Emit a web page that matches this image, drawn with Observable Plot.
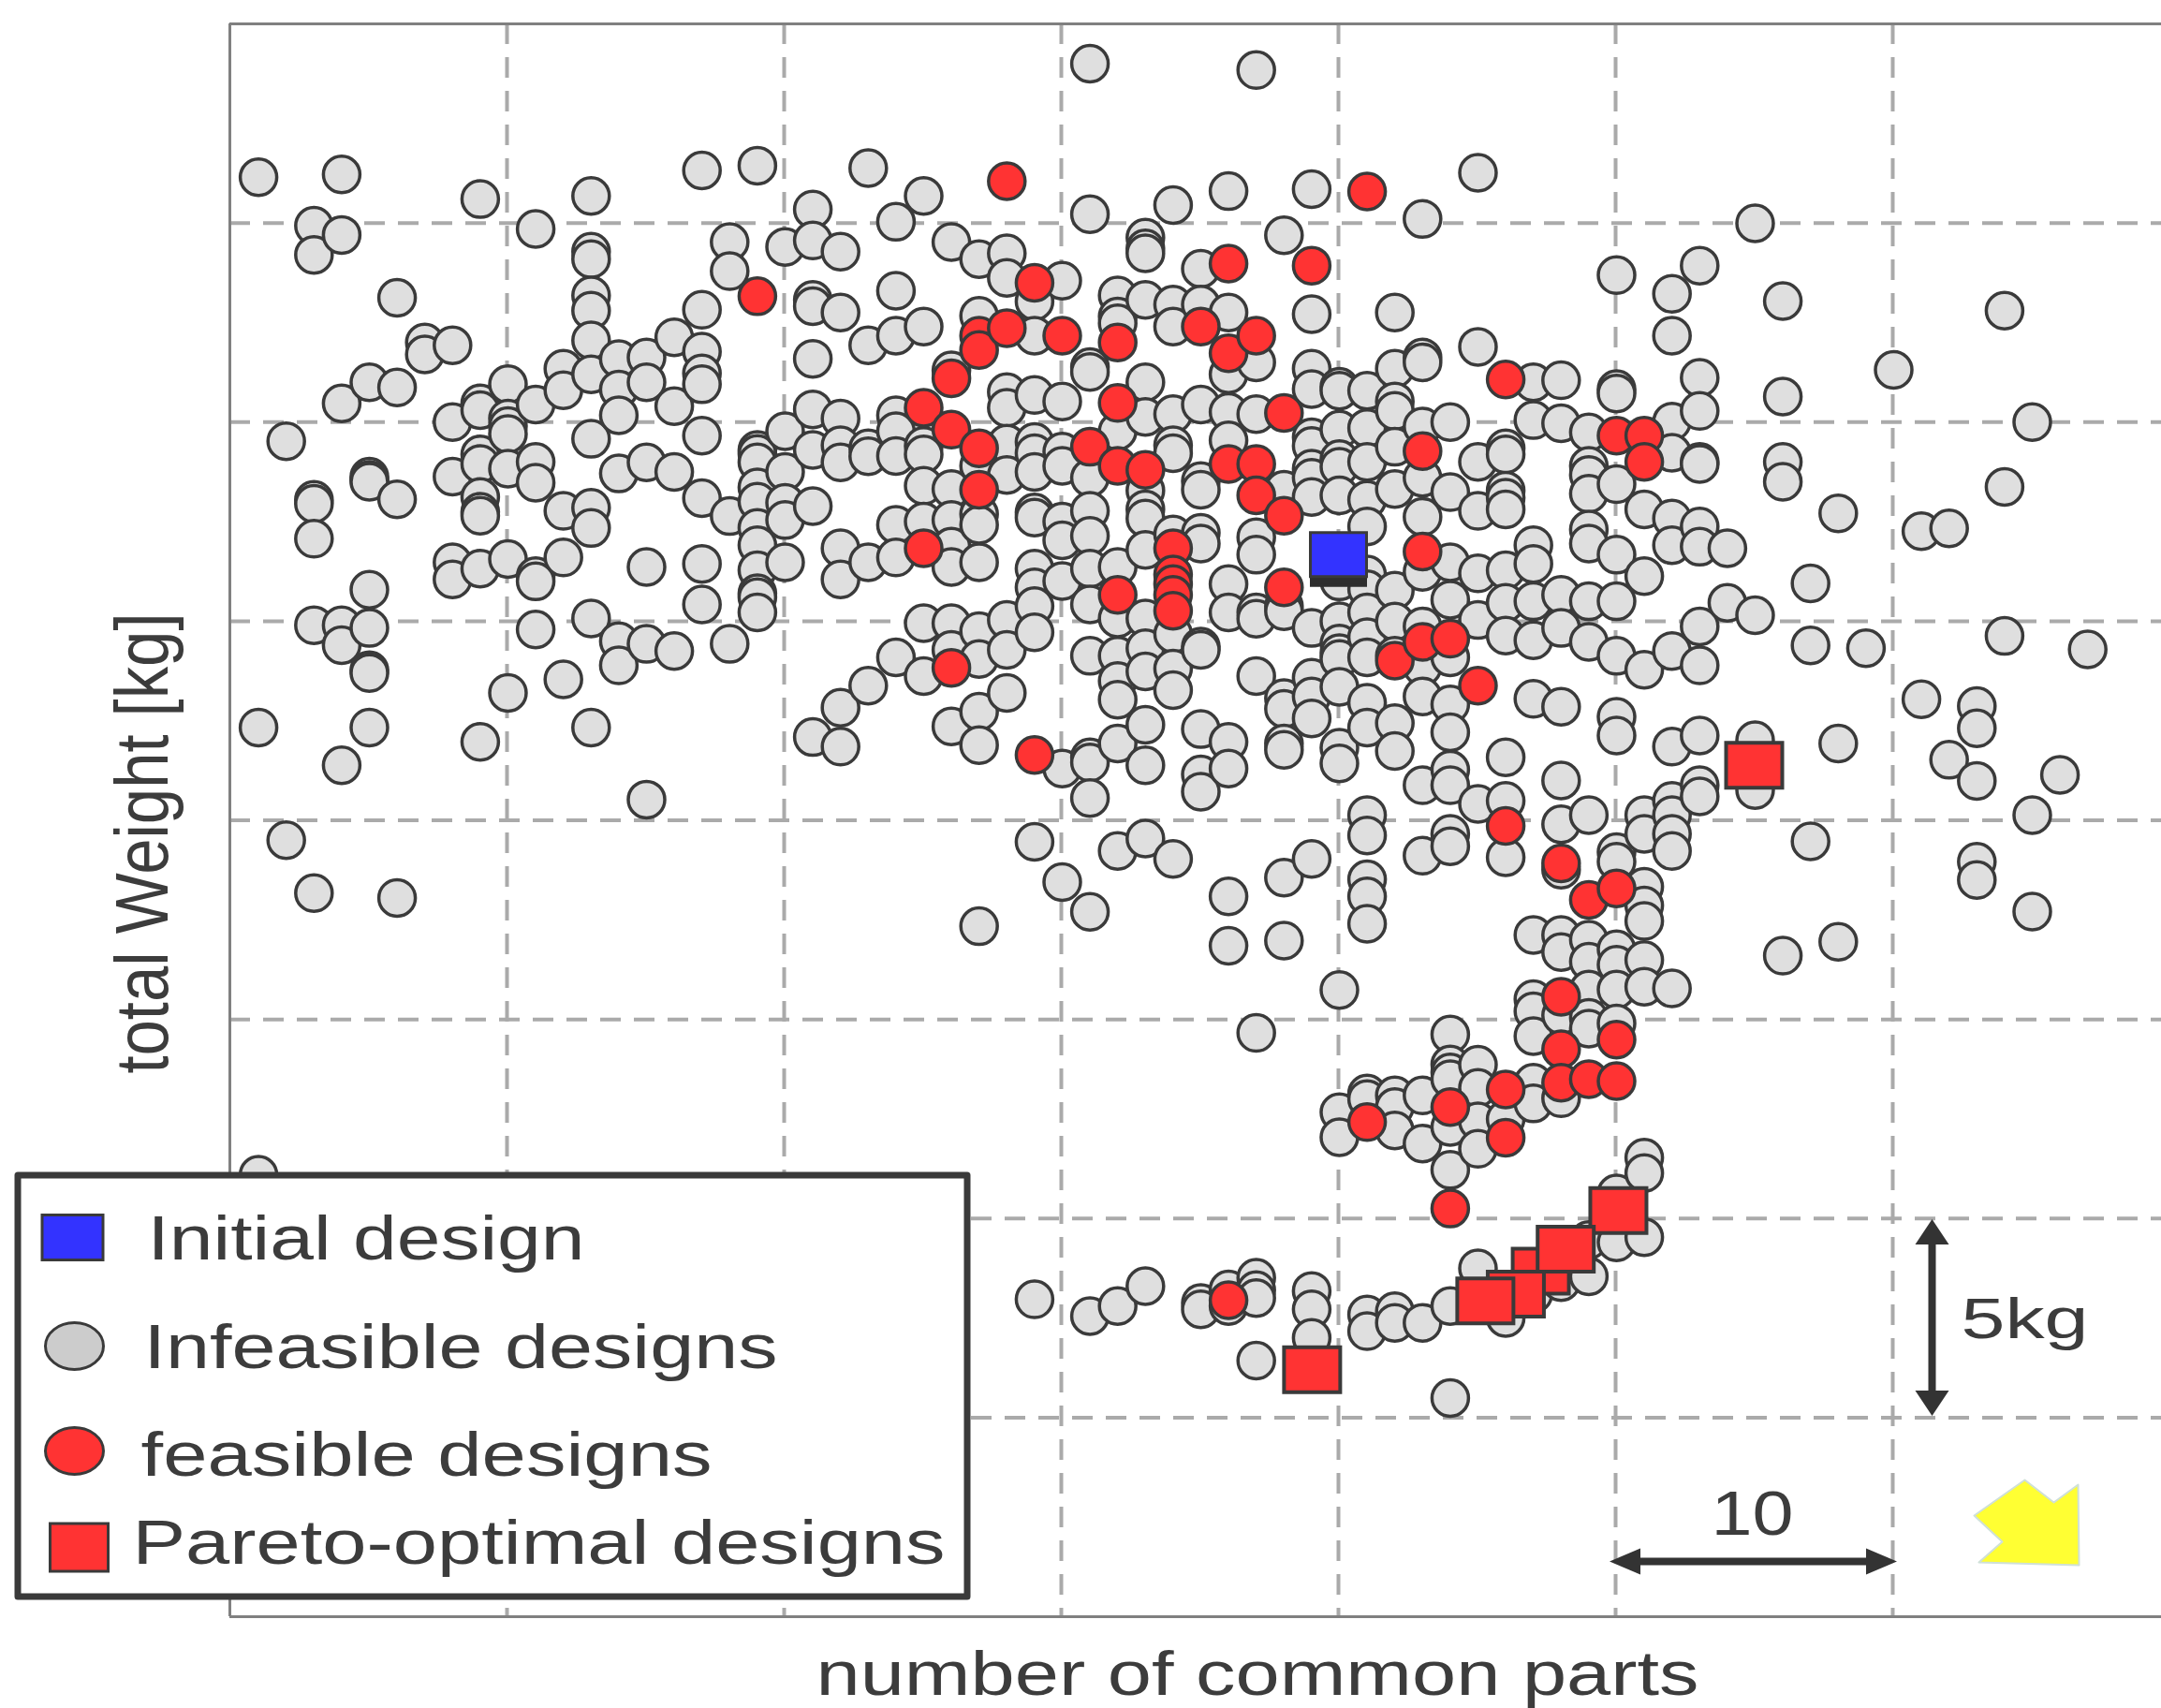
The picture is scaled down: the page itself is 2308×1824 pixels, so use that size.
<!DOCTYPE html>
<html>
<head>
<meta charset="utf-8">
<script src="https://cdn.jsdelivr.net/npm/d3@7"></script>
<script src="https://cdn.jsdelivr.net/npm/@observablehq/plot@0.6"></script>
<style>
html,body{margin:0;padding:0;background:#fff;overflow:hidden}
svg{display:block}
</style>
</head>
<body>
<div id="chart"></div>
<script>
// Infeasible designs: [number of common parts, [total weight in kg, ...]]
const infeasibleColumns = [
[1,[36.15,22.33,11.1]],
[2,[29.52,19.5]],
[3,[34.93,34.2,28.05,27.95,27.07,24.9,18.17]],
[4,[36.22,34.7,30.47,24.9,24.4,21.38]],
[5,[31.0,28.63,28.55,28.5,25.79,24.83,23.77,23.7,22.33]],
[6,[33.12,30.87,28.06,18.05]],
[7,[32.0,31.7]],
[8,[31.93,30.0,28.63,26.48,26.05]],
[9,[35.6,30.47,30.3,29.19,28.95,28.12,27.75,27.65,26.32,21.97]],
[10,[30.95,30.09,29.9,29.7,28.83,26.56,23.2]],
[11,[34.85,30.44,29.0,28.48,26.13,26.0,24.79]],
[12,[31.34,30.8,27.77,26.6,23.54]],
[13,[35.68,34.28,34.09,33.18,32.8,32.05,31.2,29.58,27.85,27.34,25.07,22.33]],
[14,[31.58,30.82,30.17,28.71,24.5,23.89]],
[15,[31.62,31.0,28.99,26.36,24.43,20.52]],
[16,[32.13,30.4,28.75,24.25]],
[17,[36.32,32.82,31.77,31.22,30.95,29.66,28.09,26.44,25.42]],
[18,[34.52,33.79,27.64,24.43]],
[19,[36.44,29.3,29.2,28.99,28.36,28.0,27.34,26.91,26.28,25.7,25.6,25.22]],
[20,[34.4,29.77,28.75,27.97,27.54,26.48]],
[21,[35.34,34.56,33.07,32.91,31.59,30.32,29.3,27.89,22.09]],
[22,[34.28,32.75,30.09,29.42,28.99,26.83,26.05,22.83,21.85]],
[23,[36.38,31.93,29.34,29.14,26.48,23.38]],
[24,[35.03,33.3,32.17,30.17,29.77,29.15,27.42,26.6,24.09]],
[25,[35.68,32.4,29.4,29.19,28.4,27.5,24.95,23.62]],
[26,[34.52,31.3,28.32,27.54,26.87,26.36,24.95,24.28,22.36]],
[27,[34.09,32.67,28.9,27.69,27.42,26.48,24.75,24.05,22.73,21.89,17.34]],
[28,[34.24,33.62,30.75,30.36,29.46,28.67,25.03,24.28,23.2]],
[29,[33.03,32.17,30.68,29.5,29.22,28.75,27.73,27.6,26.32,25.85,25.38,24.72,19.46,7.97]],
[30,[33.55,30.52,29.26,28.9,27.5,27.03,26.01,21.3,18.45]],
[31,[39.0,35.22,31.38,31.26,28.6,27.77,27.14,26.32,25.42,24.13,21.58,21.45,20.56,17.7,7.55]],
[32,[33.18,32.65,32.48,29.77,26.36,25.07,24.13,23.5,23.03,21.93,19.23,7.8]],
[33,[34.63,34.36,34.24,33.07,31.0,30.13,28.28,27.81,27.58,26.79,25.07,24.32,23.74,22.4,21.38,19.54,8.3]],
[34,[35.45,32.95,32.4,30.2,29.42,29.22,27.18,24.68,23.81,23.27,19.03]],
[35,[33.85,32.95,30.44,28.52,28.3,27.22,26.95,24.36,24.28,22.29,21.15,20.72,7.88,7.72]],
[36,[35.8,32.75,31.2,30.25,29.54,25.93,25.22,21.97,21.3,18.09,16.85,8.22,7.8]],
[37,[38.84,31.5,30.2,27.11,26.67,25.22,25.06,23.62,14.66,8.51,8.2,8.0,6.43]],
[38,[34.69,28.3,25.38,25.25,23.07,22.8,21.93,21.77,18.56,16.98]],
[39,[35.85,32.71,31.34,30.83,29.62,29.4,28.83,28.6,28.12,24.83,23.58,23.11,22.56,19.03,8.18,7.72,7.0]],
[40,[30.89,30.79,29.81,29.07,28.88,28.16,26.3,26.0,25.0,24.44,24.2,24.05,23.35,21.82,21.43,15.74,12.67,12.04]],
[41,[30.79,29.85,29.0,28.05,27.38,26.17,25.8,25.22,24.6,24.09,22.95,22.33,20.13,19.62,18.52,18.09,17.4,13.14,13.0,7.59,7.17]],
[42,[32.75,31.34,30.52,30.28,29.38,28.32,25.77,24.99,24.13,22.44,21.74,13.09,12.8,12.21,7.67,7.38]],
[43,[35.1,31.62,31.5,29.89,28.6,27.62,26.24,24.87,23.85,23.11,20.88,19.11,13.09,11.88,7.38]],
[44,[30.0,28.24,26.48,25.54,24.09,22.91,22.21,21.27,20.88,19.66,19.35,14.62,13.87,13.67,13.5,12.3,11.22,7.8,5.49]],
[45,[36.26,31.89,29.0,27.77,26.2,25.03,20.41,13.86,13.28,12.44,11.75,8.75]],
[46,[29.34,29.19,28.28,28.1,27.81,26.28,25.46,24.64,21.58,20.49,19.07,12.5,7.5]],
[47,[31.0,30.05,26.91,26.44,25.5,24.52,23.05,17.12,15.51,15.2,14.58,13.41,12.89,8.1]],
[48,[31.05,29.97,25.66,24.83,22.85,21.0,19.9,18.76,17.12,16.69,15.1,13.02,8.4]],
[49,[29.74,28.9,28.67,28.2,27.3,26.95,25.5,24.48,20.13,17.0,16.45,15.75,15.04,14.77,9.46,8.55]],
[50,[33.69,30.83,30.72,28.44,26.67,25.5,24.13,22.6,22.13,19.2,18.96,16.76,16.37,15.75,14.9,10.63,9.4]],
[51,[27.81,26.13,23.78,20.13,19.66,18.33,17.86,17.47,16.49,15.82,11.53,11.14,9.53]],
[52,[33.22,32.17,30.01,29.23,27.58,26.91,24.25,21.85,20.49,20.13,19.66,19.23,15.78]],
[53,[33.93,31.11,30.28,29.0,28.95,27.38,26.87,24.87,23.89,22.13,20.88,20.6]],
[54,[26.83,25.46]],
[55,[34.99,25.15,22.01,20.76]],
[56,[33.04,30.64,29.0,28.5,16.6]],
[57,[25.95,24.39,19.47]],
[58,[27.71,21.93,16.95]],
[59,[24.32]],
[60,[31.31]],
[61,[27.26,23.04]],
[62,[27.33,21.52]],
[63,[22.87,22.31,20.99,18.96,18.5]],
[64,[32.8,28.37,24.63]],
[65,[30.0,20.13,17.71]],
[66,[21.14]],
[67,[24.29]]
];
// Feasible designs
const feasibleParts = [28,41,36,39,19,29,27,27,28,30,32,35,36,37,26,25,26,27,27,32,31,32,33,36,37,37,38,38,43,46,50,51,51,25,34,43,34,34,34,34,32,38,26,29,42,43,44,45,46,48,49,50,48,48,48,49,50,50,46,44,41,46,44,36];
const feasibleKg = [36.05,35.79,33.98,33.93,33.16,33.5,32.17,31.81,32.36,32.17,32.0,32.4,31.73,32.17,31.1,30.36,29.81,29.34,28.3,30.48,29.38,28.9,28.8,28.95,28.95,28.16,27.65,30.23,29.27,31.07,29.66,29.66,29.0,26.83,26.83,26.75,26.17,25.93,25.66,25.26,25.66,25.85,23.83,21.64,24.01,24.48,24.56,23.38,19.86,18.92,18.0,18.29,15.57,14.25,13.41,13.5,14.49,13.45,13.24,12.8,12.42,12.03,10.25,7.95];
// Pareto-optimal designs
const paretoParts = [55,50.1,47.3,48.2,46.4,45.3,39.05];
const paretoKg = [21.38,10.2,8.68,9.23,8.1,7.93,6.2];
// Initial design
const initialParts = [40];
const initialKg = [26.67];
// Grid and text
const partTicks = [10,20,30,40,50,60];
const kgTicks = [5,10,15,20,25,30,35];
const legendLabels = ["Initial design","Infeasible designs","feasible designs","Pareto-optimal designs"];
const xLabel = "number of common parts";
const yLabel = "total Weight [kg]";

const infeasible = infeasibleColumns.flatMap(([x, ys]) => ys.map(y => ({x, y})));
const feasible = feasibleParts.map((x, i) => ({x, y: feasibleKg[i]}));
const pareto = paretoParts.map((x, i) => ({x, y: paretoKg[i]}));
const initial = initialParts.map((x, i) => ({x, y: initialKg[i]}));

// page layout helpers: pixel → data, for annotations only
const W = 2308, H = 1824, L = 245, T = 25, B = 1726;
const px = X => (X - L) / 29.6;
const py = Y => (B - Y) * 40 / (B - T);

const rectSymbol = (w, h) => ({draw(c){c.moveTo(-w/2,-h/2);c.lineTo(w/2,-h/2);c.lineTo(w/2,h/2);c.lineTo(-w/2,h/2);c.closePath();}});
const ellipseSymbol = (rx, ry) => ({draw(c){
  const k=0.5523, ax=rx*k, ay=ry*k;
  c.moveTo(-rx,0);
  c.bezierCurveTo(-rx,-ay,-ax,-ry,0,-ry);
  c.bezierCurveTo(ax,-ry,rx,-ay,rx,0);
  c.bezierCurveTo(rx,ay,ax,ry,0,ry);
  c.bezierCurveTo(-ax,ry,-rx,ay,-rx,0);
  c.closePath();
}});
const headSymbol = (w, h) => ({draw(c){c.moveTo(0,-h/2);c.lineTo(w/2,h/2);c.lineTo(-w/2,h/2);c.closePath();}});

const ink = "#3a3a3a", gray = "#dfdfdf", red = "#ff3333", blue = "#3333ff";
const font = "'Liberation Sans', Arial, sans-serif";
const dash = "22 14";

const textMark = (s, X, Y, size, opts = {}) => Plot.text([s], {
  x: () => px(X), y: () => py(Y), text: d => d, fontSize: size, fontFamily: font,
  fill: "#3c3c3c", textAnchor: "start", lineAnchor: "bottom", ...opts
});
const one = (X, Y, opts) => Plot.dot([0], {x: () => px(X), y: () => py(Y), ...opts});

// target drawn lengths of the slightly wide reference lettering
const textLengths = new Map([
  [legendLabels[0],467],[legendLabels[1],677],[legendLabels[2],610],[legendLabels[3],868],
  [xLabel,943],[yLabel,492],["10",88],["5kg",136]
]);

const yellowArrowX = [2162,2193,2219,2220,2113,2138,2108].map(px);
const yellowArrowY = [1580,1604,1585,1671,1668,1646,1618].map(py);

const chart = Plot.plot({
  width: W, height: H,
  marginLeft: L, marginRight: 0, marginTop: T, marginBottom: H - B,
  x: {domain: [0, (W - L) / 29.6], axis: null},
  y: {domain: [0, 40], axis: null},
  style: {background: "#fff", fontFamily: font, filter: "blur(0.7px)"},
  marks: [
    Plot.ruleX(partTicks, {stroke: "#aaa", strokeWidth: 4, strokeDasharray: dash}),
    Plot.ruleY(kgTicks, {stroke: "#aaa", strokeWidth: 4, strokeDasharray: dash}),
    Plot.ruleX([0], {stroke: "#808080", strokeWidth: 3}),
    Plot.ruleY([0, 40], {stroke: "#808080", strokeWidth: 3}),

    Plot.dot(infeasible, {x: "x", y: "y", dx: 1, r: 19.5, fill: gray, stroke: ink, strokeWidth: 3.5}),
    Plot.dot(feasible, {x: "x", y: "y", dx: 1, r: 19.5, fill: red, stroke: ink, strokeWidth: 3.5}),
    Plot.dot(initial, {x: "x", y: "y", dy: 8, symbol: rectSymbol(58, 50), fill: "#2e2e2e", stroke: "#2e2e2e", strokeWidth: 3}),
    Plot.dot(initial, {x: "x", y: "y", symbol: rectSymbol(60, 47), fill: blue, stroke: ink, strokeWidth: 3}),
    Plot.dot(pareto, {x: "x", y: "y", symbol: rectSymbol(60, 48), fill: red, stroke: ink, strokeWidth: 4}),

    // 10 span
    Plot.link([0], {x1: () => 50.2, x2: () => 59.8, y1: () => py(1667), y2: () => py(1667), stroke: "#333", strokeWidth: 8}),
    one(1735, 1667, {symbol: headSymbol(28, 33), rotate: -90, fill: "#333"}),
    one(2009, 1667, {symbol: headSymbol(28, 33), rotate: 90, fill: "#333"}),
    textMark("10", 1827, 1638, 67),
    // 5 kg span
    Plot.link([0], {x1: () => px(2063), x2: () => px(2063), y1: () => 9.7, y2: () => 5.5, stroke: "#333", strokeWidth: 8}),
    one(2063, 1315, {symbol: headSymbol(36, 27), fill: "#333"}),
    one(2063, 1498, {symbol: headSymbol(36, 27), rotate: 180, fill: "#333"}),
    textMark("5kg", 2094, 1428, 62),
    // yellow arrow
    Plot.line(yellowArrowX.map((x, i) => ({x, y: yellowArrowY[i]})), {x: "x", y: "y", curve: "linear-closed", fill: "#ffff33", stroke: "#cfe0d8", strokeWidth: 2}),

    // axis titles
    textMark(xLabel, 871, 1809, 66),
    textMark(yLabel, 178, 1146, 80, {rotate: -90}),

    // legend
    Plot.rect([0], {x1: () => px(19), x2: () => px(1033), y1: () => py(1255), y2: () => py(1705), fill: "#fff", stroke: "#3a3a3a", strokeWidth: 7, strokeLinejoin: "round"}),
    one(77, 1321, {symbol: rectSymbol(65, 48), fill: blue, stroke: ink, strokeWidth: 3}),
    one(79, 1437, {symbol: ellipseSymbol(31, 25), fill: "#cccccc", stroke: ink, strokeWidth: 3}),
    one(79, 1549, {symbol: ellipseSymbol(31, 25), fill: red, stroke: ink, strokeWidth: 3}),
    one(84, 1652, {symbol: rectSymbol(62, 51), fill: red, stroke: ink, strokeWidth: 3}),
    textMark(legendLabels[0], 157, 1344, 67),
    textMark(legendLabels[1], 153, 1460, 67),
    textMark(legendLabels[2], 150, 1575, 67),
    textMark(legendLabels[3], 141, 1669, 67)
  ]
});

chart.querySelectorAll("text").forEach(t => {
  const len = textLengths.get(t.textContent);
  if (len) { t.setAttribute("textLength", len); t.setAttribute("lengthAdjust", "spacingAndGlyphs"); }
});
document.getElementById("chart").append(chart);
</script>
</body>
</html>
